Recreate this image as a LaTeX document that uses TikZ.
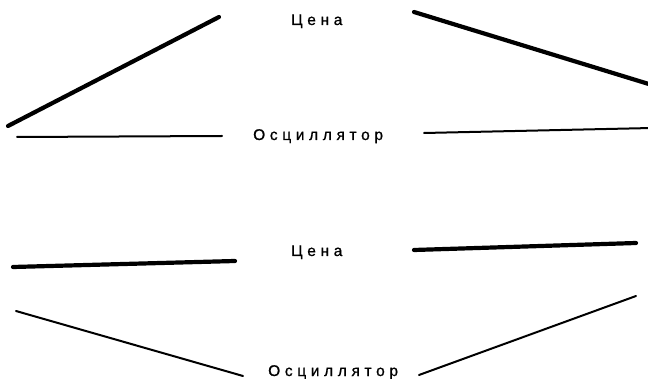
\documentclass[tikz,border=0pt]{standalone}
\usepackage{fontspec}
\setmainfont{Liberation Sans}[LetterSpace=30,FakeBold=1]
\begin{document}
\begin{tikzpicture}[x=1pt,y=-1pt,
  thickline/.style={line width=4.2pt,line cap=round},
  thinline/.style={line width=2pt,line cap=round},
  lbl/.style={inner sep=0pt,anchor=base west,font=\fontsize{15.5}{18}\selectfont}]
\useasboundingbox (0,0) rectangle (648,379);
% labels
\node[lbl] (p1) at (291,25) {Цена};
\node[lbl] (o1) at (253,140) {Осциллятор};
\node[lbl] (p2) at (291,256) {Цена};
\node[lbl] (o2) at (268,376) {Осциллятор};
% top pair
\draw[thickline] (8,126) -- (219,17);
\draw[thickline] (414,12) -- (652,85);
\draw[thinline] (17,137) -- (222,136);
\draw[thinline] (424,133) -- (652,128);
% bottom pair
\draw[thickline] (13,267) -- (235,261);
\draw[thickline] (414,250) -- (636,243);
\draw[thinline] (16,311) -- (243,376);
\draw[thinline] (419,375) -- (636,296);
\end{tikzpicture}
\end{document}
